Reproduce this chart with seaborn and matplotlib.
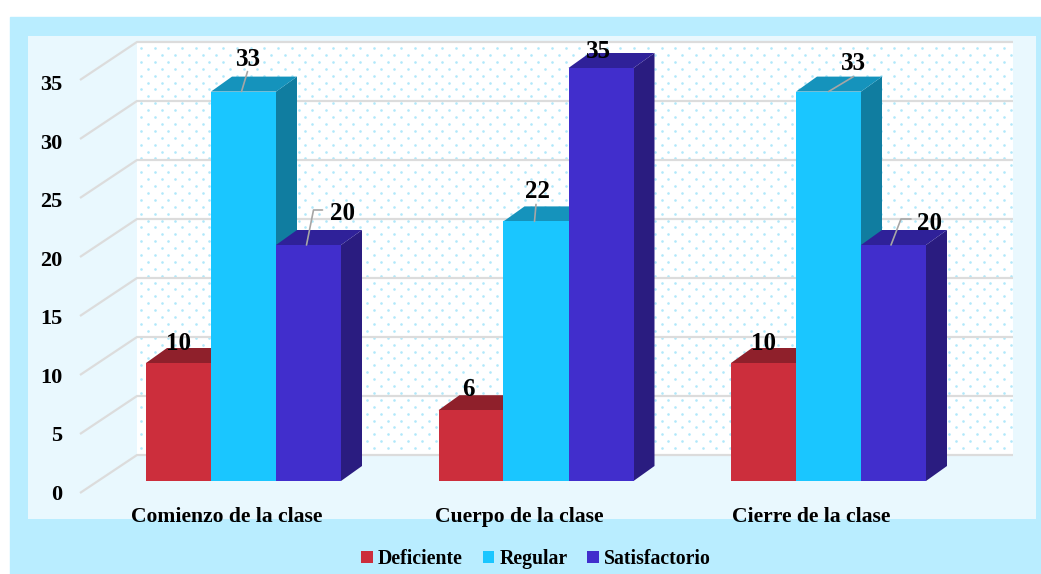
import numpy as np
import pandas as pd
import seaborn as sns
import matplotlib.pyplot as plt
from matplotlib.patches import Polygon, Rectangle
from matplotlib.transforms import ScaledTranslation

sns.set_style("white")
plt.rcParams['font.family'] = ['Liberation Serif', 'DejaVu Serif']
plt.rcParams['font.weight'] = 'bold'
plt.rcParams['text.color'] = 'black'

categories = ["Comienzo de la clase", "Cuerpo de la clase", "Cierre de la clase"]
series = ["Deficiente", "Regular", "Satisfactorio"]
deficiente = [10, 6, 10]
regular = [33, 22, 33]
satisfactorio = [20, 35, 20]
y_ticks = [0, 5, 10, 15, 20, 25, 30, 35]

front_colors = ["#CC2E3C", "#1AC6FF", "#412ECC"]
top_colors = ["#8F202B", "#1593BC", "#2F2199"]
side_colors = ["#7A1B24", "#107DA0", "#2A1C80"]

# label offset from top of bar, in pixels, same order as the bars
label_offsets = [[(0, -20), (-2.5, -21), (0, -20)],
                 [(5, -32), (1, -30), (24.5, -28)],
                 [(34, -32), (-2.5, -16), (36.5, -22)]]
leaders = [[None, None, None],
           [[(-2, 0), (4, -20)], [(-1.5, 0), (0, -17)], [(0, 0), (25, -15)]],
           [[(-2, 0), (5, -35), (14, -35)], None, [(-2.5, 0), (7.5, -26), (17.5, -26)]]]

W, H = 1041, 574
PX_X = 292.5   # pixels per category
PX_Y = 11.8    # pixels per value unit


def px(x, y):
    # page pixel to data position
    return (x - 243.5) / PX_X, (481 - y) / PX_Y


df = pd.DataFrame({
    "clase": categories * 3,
    "serie": np.repeat(series, 3),
    "valor": deficiente + regular + satisfactorio,
})

fig = plt.figure(figsize=(W / 100, H / 100), dpi=100, facecolor="white")
fig.add_artist(Rectangle((10 / W, 0), (W - 10) / W, (H - 17) / H,
                         transform=fig.transFigure, color="#B9EDFF", zorder=-5))
ax = fig.add_axes([28 / W, (H - 519) / H, (1036 - 28) / W, (519 - 36) / H])
ax.set_facecolor("#E9F8FE")

sns.barplot(data=df, x="clase", y="valor", hue="serie", order=categories,
            hue_order=series, palette=front_colors, saturation=1, width=2 / 3,
            gap=0, ax=ax, zorder=4, linewidth=0)

(x0, _), (x1, _) = px(28, 0), px(1036, 0)
(_, y0), (_, y1) = px(0, 519), px(0, 36)
ax.set_xlim(x0, x1)
ax.set_ylim(y0, y1)
for s in ax.spines.values():
    s.set_visible(False)

# back wall, dots and grid
ax.add_patch(Polygon([px(137, 42), px(1013, 42), px(1013, 454), px(137, 454)],
                     facecolor="white", edgecolor="none", zorder=0.5))
dot_x, dot_y = [], []
for i, row in enumerate(np.arange(48, 452, 6.9)):
    for col in np.arange(141 + (i % 2) * 6.85, 1011, 13.7):
        p = px(col, row)
        dot_x.append(p[0])
        dot_y.append(p[1])
ax.scatter(dot_x, dot_y, s=3.5, color="#B0E8FA", linewidth=0, zorder=1)

for v in y_ticks:
    back = 42 + 59 * (7 - v / 5)
    front = 80 + 59 * (7 - v / 5)
    xs, ys = zip(px(80, front), px(137, back), px(1013, back))
    ax.plot(xs, ys, color="#DCDCDC", lw=1.6, zorder=2, solid_capstyle="butt")

# depth of the bars, taken from the bars seaborn made
dx, dy = 21 / PX_X, 15 / PX_Y
bars = []
for s, cont in enumerate(ax.containers):
    for g, b in enumerate(cont):
        bars.append((b.get_x(), s, g, b))
bars.sort(key=lambda t: t[0])
for left, s, g, b in bars:
    w, h = b.get_width(), b.get_height()
    ax.add_patch(Polygon([(left + w, 0), (left + w + dx, dy), (left + w + dx, h + dy), (left + w, h)],
                         facecolor=side_colors[s], edgecolor="none", zorder=3))
    ax.add_patch(Polygon([(left, h), (left + dx, h + dy), (left + w + dx, h + dy), (left + w, h)],
                         facecolor=top_colors[s], edgecolor="none", zorder=3))
# fronts of later bars must cover depth of earlier ones, tops of later ones cover sides
for i, (left, s, g, b) in enumerate(bars):
    b.set_zorder(4)
    cx = left + b.get_width() / 2
    h = b.get_height()
    ox, oy = label_offsets[s][g]
    ax.text(cx + ox / PX_X, h - oy / PX_Y, f"{h:.0f}", ha="center", va="center",
            fontsize=18, color="black", zorder=7)
    if leaders[s][g] is not None:
        xs = [cx + q[0] / PX_X for q in leaders[s][g]]
        ys = [h - q[1] / PX_Y for q in leaders[s][g]]
        ax.plot(xs, ys, color="#A6A6A6", lw=1.2, zorder=6)

# axes text
ax.set_xlabel("")
ax.set_ylabel("")
ax.set_yticks(y_ticks)
ax.tick_params(axis="y", length=0, pad=-34 * 0.72, labelsize=16, labelcolor="black")
ax.tick_params(axis="x", length=0, pad=-12 * 0.72, labelsize=15.6, labelcolor="black")
x_shift = ScaledTranslation(-17 / 100, 0, fig.dpi_scale_trans)
for t, v in zip(ax.get_yticklabels(), y_ticks):
    y_shift = ScaledTranslation(0, -(11 + 4 * v / 35) / 100, fig.dpi_scale_trans)
    t.set_transform(t.get_transform() + y_shift)
    t.set_zorder(8)
for t in ax.get_xticklabels():
    t.set_transform(t.get_transform() + x_shift)
ax.set_axisbelow(False)

sns.move_legend(ax, "center", bbox_to_anchor=(536 / W, (H - 559) / H),
                bbox_transform=fig.transFigure, ncol=3, frameon=False, title=None,
                prop={"size": 14.2, "weight": "bold"}, handlelength=0.6, handleheight=0.6,
                handletextpad=0.25, columnspacing=1.0, labelcolor="black")

fig.savefig("out.png", dpi=100)
